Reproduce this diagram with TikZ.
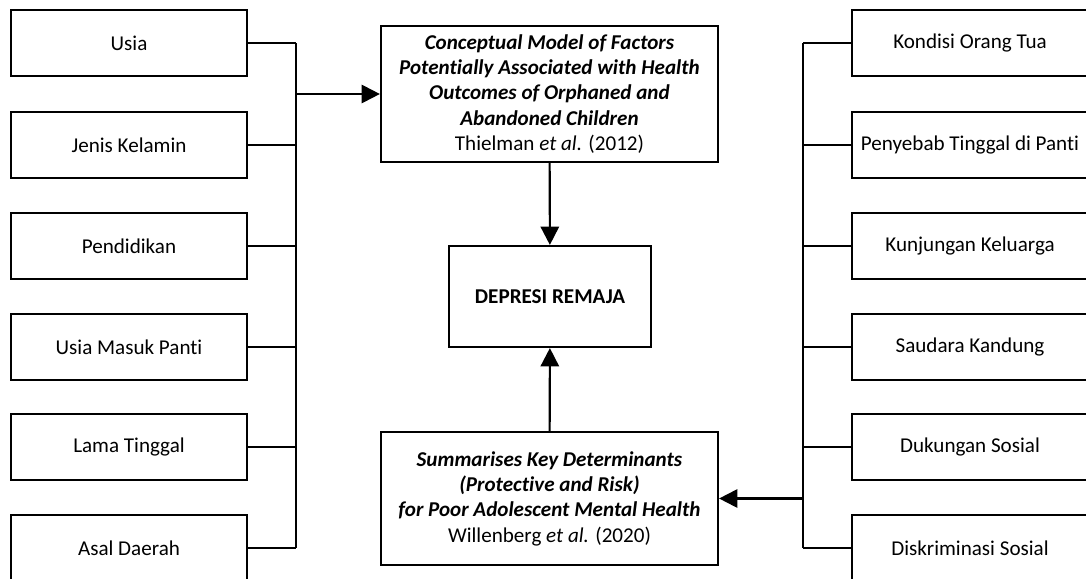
\documentclass[tikz,border=0pt]{standalone}
\usepackage{fontspec}
\setmainfont[Ligatures=CommonOff]{Carlito}
\usepackage{tikz}
\usetikzlibrary{arrows.meta}

\begin{document}
\begin{tikzpicture}[x=0.025cm, y=-0.025cm, line width=1.5pt,
		factor/.style={draw=black, minimum width=5.9cm, minimum height=1.65cm, font=\fontsize{15}{18}\selectfont},
		model/.style={draw=black, align=center, minimum width=8.425cm, font=\fontsize{15}{18}\selectfont},
		arrow/.style={-{Triangle[length=13pt, width=13pt]}}]
		\path[use as bounding box, clip] (0,0) rectangle (1086,579);
		
		% Left factors
		\node[factor] (usia) at (129,43) {Usia};
		\node[factor] (jenis_kelamin) at (129,145) {Jenis Kelamin};
		\node[factor] (pendidikan) at (129,246) {Pendidikan};
		\node[factor] (usia_masuk) at (129,347) {Usia Masuk Panti};
		\node[factor] (lama_tinggal) at (129,447) {Lama Tinggal};
		\node[factor] (asal_daerah) at (129,548) {Asal Daerah};
		
		% Right factors
		\node[factor] (kondisi) at (970,43) {Kondisi Orang Tua};
		\node[factor] (penyebab) at (970,145) {Penyebab Tinggal di Panti};
		\node[factor] (kunjungan) at (970,246) {Kunjungan Keluarga};
		\node[factor] (saudara) at (970,347) {Saudara Kandung};
		\node[factor] (dukungan) at (970,447) {Dukungan Sosial};
		\node[factor] (diskriminasi) at (970,548) {Diskriminasi Sosial};
		
		% Models
		\node[model, minimum height=3.4cm] (thielman) at (549.5,94) {\textbf{\textit{Conceptual Model of Factors}}\\ \textbf{\textit{Potentially Associated with Health}}\\ \textbf{\textit{Outcomes of Orphaned and}}\\ \textbf{\textit{Abandoned Children}}\\ Thielman \textit{et al.} (2012)};
		\node[model, minimum height=3.325cm] (willenberg) at (549.5,498.5) {\textbf{\textit{Summarises Key Determinants}}\\ \textbf{\textit{(Protective and Risk)}}\\ \textbf{\textit{for Poor Adolescent Mental Health}}\\ Willenberg \textit{et al.} (2020)};
		
		% Outcome
		\node[draw=black, minimum width=5.05cm, minimum height=2.525cm, font=\fontsize{15}{18}\selectfont\bfseries] (depresi) at (550,296.5) {DEPRESI REMAJA};
		
		% Buses
		\coordinate (lbus_top) at (296,43);
		\coordinate (lbus_bot) at (296,548);
		\coordinate (rbus_top) at (803,43);
		\coordinate (rbus_bot) at (803,548);
		\draw (lbus_top) -- (lbus_bot);
		\draw (rbus_top) -- (rbus_bot);
		
		% Connect factors
		\draw (usia) -- (usia -| lbus_top);
		\draw (jenis_kelamin) -- (jenis_kelamin -| lbus_top);
		\draw (pendidikan) -- (pendidikan -| lbus_top);
		\draw (usia_masuk) -- (usia_masuk -| lbus_top);
		\draw (lama_tinggal) -- (lama_tinggal -| lbus_top);
		\draw (asal_daerah) -- (asal_daerah -| lbus_top);
		\draw (kondisi) -- (kondisi -| rbus_top);
		\draw (penyebab) -- (penyebab -| rbus_top);
		\draw (kunjungan) -- (kunjungan -| rbus_top);
		\draw (saudara) -- (saudara -| rbus_top);
		\draw (dukungan) -- (dukungan -| rbus_top);
		\draw (diskriminasi) -- (diskriminasi -| rbus_top);
		
		% Connect models
		\draw[arrow] (lbus_top |- thielman.west) -- (thielman.west);
		\draw[arrow] (rbus_top |- willenberg.east) -- (willenberg.east);
		\draw[arrow] (thielman) -- (depresi);
		\draw[arrow] (willenberg) -- (depresi);
	\end{tikzpicture}
\end{document}
